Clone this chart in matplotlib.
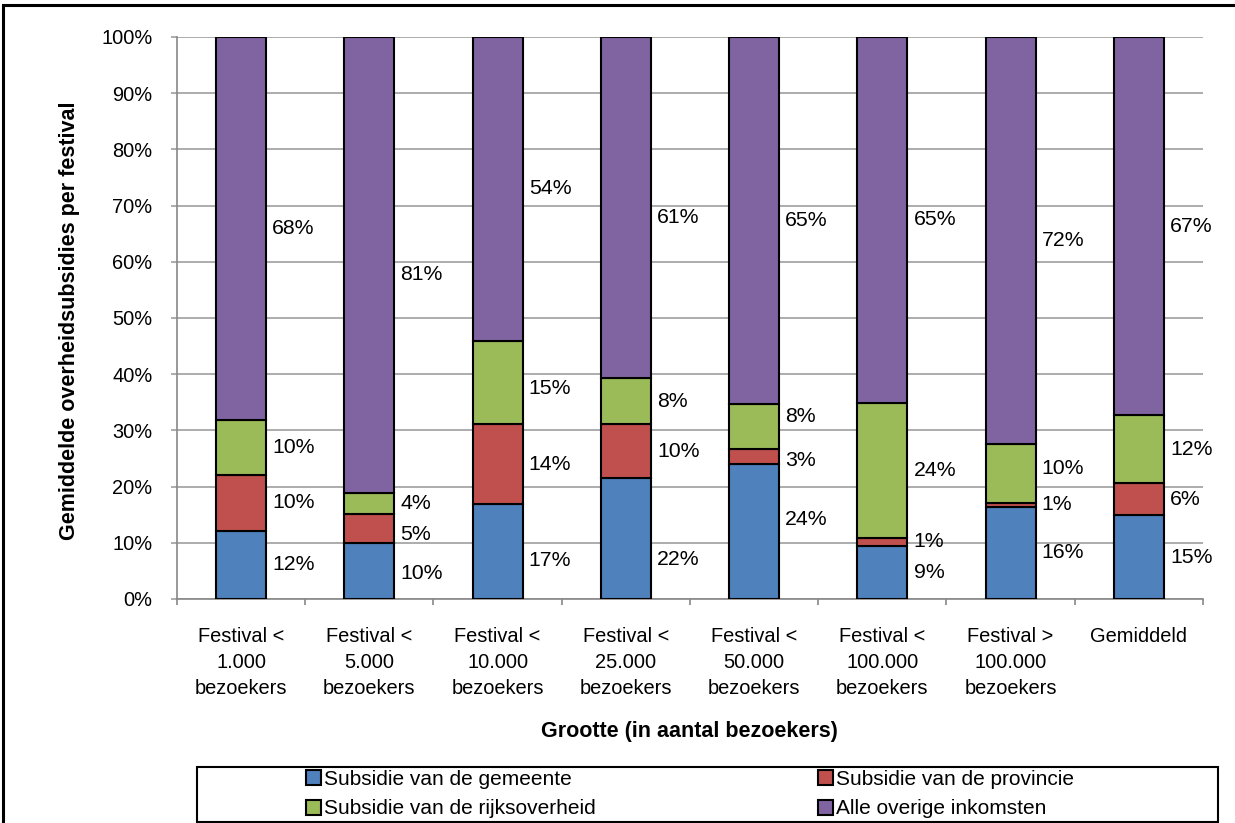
import matplotlib.pyplot as plt
from matplotlib.patches import Rectangle
import numpy as np

plt.rcParams['font.family'] = ['Liberation Sans', 'DejaVu Sans']

categories = ['Festival <\n1.000\nbezoekers', 'Festival <\n5.000\nbezoekers',
              'Festival <\n10.000\nbezoekers', 'Festival <\n25.000\nbezoekers',
              'Festival <\n50.000\nbezoekers', 'Festival <\n100.000\nbezoekers',
              'Festival >\n100.000\nbezoekers', 'Gemiddeld']

series_names = ['Subsidie van de gemeente', 'Subsidie van de provincie',
                'Subsidie van de rijksoverheid', 'Alle overige inkomsten']

gemeente = [12.1, 10.0, 16.9, 21.5, 24.0, 9.4, 16.4, 14.9]
provincie = [10.0, 5.1, 14.2, 9.6, 2.7, 1.5, 0.7, 5.7]
rijk = [9.8, 3.8, 14.8, 8.2, 8.0, 24.0, 10.5, 12.1]
overig = [68.1, 81.1, 54.1, 60.7, 65.3, 65.1, 72.4, 67.3]

labels_gemeente = ['12%', '10%', '17%', '22%', '24%', '9%', '16%', '15%']
labels_provincie = ['10%', '5%', '14%', '10%', '3%', '1%', '1%', '6%']
labels_rijk = ['10%', '4%', '15%', '8%', '8%', '24%', '10%', '12%']
labels_overig = ['68%', '81%', '54%', '61%', '65%', '65%', '72%', '67%']

colors = ['#4F81BD', '#C0504D', '#9BBB59', '#8064A2']

# label nudges (points, positive = up) where excel moved them off centre
nudge = {(0, 1): -2, (1, 1): -4, (3, 1): -7, (0, 2): -6.5, (2, 2): -4.5,
         (0, 3): -15, (3, 3): -7, (0, 4): 9, (1, 4): -3, (2, 4): 7, (2, 6): 3.5}

fig = plt.figure(figsize=(12.35, 8.23), dpi=100)
ax = fig.add_axes([0.1433, 0.2722, 0.8307, 0.6829])

x = np.arange(len(categories))
width = 0.39
data = [gemeente, provincie, rijk, overig]
labels = [labels_gemeente, labels_provincie, labels_rijk, labels_overig]
bottom = np.zeros(len(categories))
handles = []
for k, (vals, lab) in enumerate(zip(data, labels)):
    vals = np.array(vals)
    b = ax.bar(x, vals, width, bottom=bottom, color=colors[k], edgecolor='black',
               linewidth=1.5, label=series_names[k], zorder=3)
    handles.append(b)
    for i in range(len(x)):
        yc = bottom[i] + vals[i] / 2
        ax.annotate(lab[i], (x[i] + width / 2, yc), xytext=(4.5, nudge.get((k, i), 0)),
                    textcoords='offset points', ha='left', va='center', fontsize=15.3)
    bottom += vals

ax.set_xlim(-0.5, len(categories) - 0.5)
ax.set_ylim(0, 100)
ax.set_yticks(np.arange(0, 101, 10))
ax.set_yticklabels([f'{v}%' for v in range(0, 101, 10)], fontsize=14.4)
ax.yaxis.grid(True, color='#a6a6a6', linewidth=1.3, zorder=0)
ax.set_axisbelow(True)

ax.set_xticks(x)
ax.set_xticklabels(categories, fontsize=14.4, linespacing=1.47)
ax.set_xticks(np.arange(-0.5, len(categories)), minor=True)
ax.tick_params(axis='x', which='major', length=0, pad=20)
ax.tick_params(axis='x', which='minor', length=4.3, color='#888888', width=1.2)
ax.tick_params(axis='y', length=4.3, color='#a6a6a6', width=1.3, pad=13.5)

for s in ['top', 'right']:
    ax.spines[s].set_visible(False)
ax.spines['left'].set_color('#888888')
ax.spines['bottom'].set_color('#888888')
ax.spines['left'].set_linewidth(1.2)
ax.spines['bottom'].set_linewidth(1.2)

fig.text(70 / 1235, 1 - 321 / 823, 'Gemiddelde overheidsubsidies per festival',
         rotation=90, ha='center', va='center', fontsize=15.5, fontweight='bold')
fig.text(689.5 / 1235, 1 - 731 / 823, 'Grootte (in aantal bezoekers)',
         ha='center', va='center', fontsize=15.5, fontweight='bold')

# legend: two columns, boxed
leg_kw = dict(loc='upper left', frameon=False, fontsize=15, handlelength=0.72,
              handleheight=0.72, handletextpad=0.15, borderpad=0, labelspacing=0.5,
              borderaxespad=0)
fig.legend([handles[0], handles[2]], [series_names[0], series_names[2]],
           bbox_to_anchor=(306 / 1235, 1 - 770 / 823), **leg_kw)
fig.legend([handles[1], handles[3]], [series_names[1], series_names[3]],
           bbox_to_anchor=(818 / 1235, 1 - 770 / 823), **leg_kw)
fig.patches.append(Rectangle((197 / 1235, 1.5 / 823), (1218 - 197) / 1235, 55 / 823,
                             transform=fig.transFigure, fill=False,
                             edgecolor='black', linewidth=1.5))

# outer frame of the figure
fig.patches.append(Rectangle((3 / 1235, -0.01), 1.02, 1.01 - 5 / 823,
                             transform=fig.transFigure, fill=False,
                             edgecolor='black', linewidth=2.2))

fig.savefig('out.png', dpi=100)
